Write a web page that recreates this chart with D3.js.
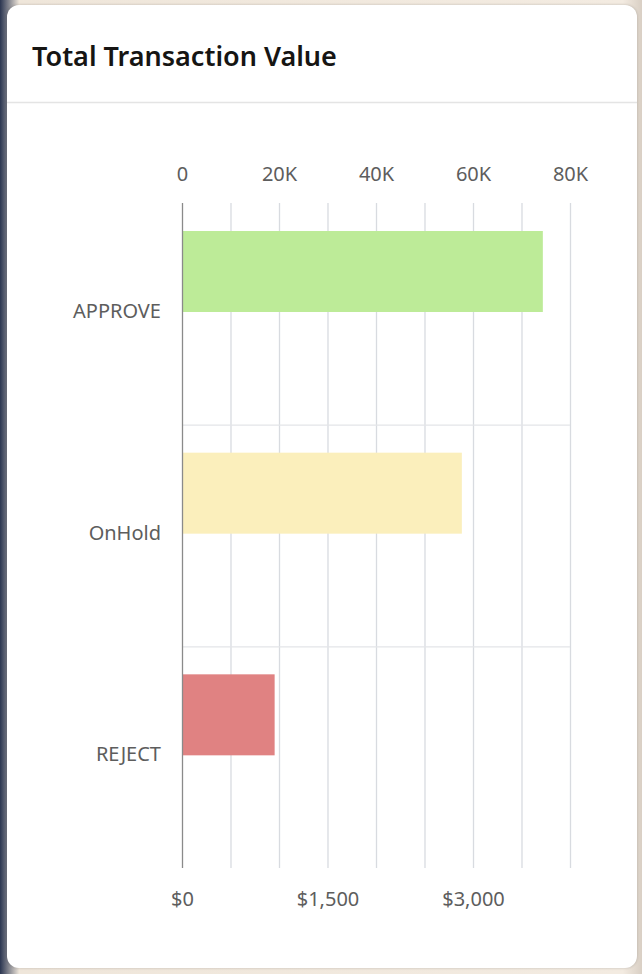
<!DOCTYPE html>
<html>
<head>
<meta charset="utf-8">
<script src="https://cdn.jsdelivr.net/npm/d3@7"></script>
<style>
  html, body { margin: 0; width: 642px; height: 974px; overflow: hidden; }
  body { background: linear-gradient(90deg, #2a3550 0%, #efe6da 3%, #f3ebe1 97%, #d9cfc4 100%); }
  #card { position: absolute; left: 7px; top: 5px; width: 630px; height: 963px;
    background: #fff; border-radius: 12px; box-shadow: 0 0 3px rgba(0,0,0,0.2); }
  text { font-family: "Noto Sans", "Open Sans", sans-serif; }
</style>
</head>
<body>
<div id="card"></div>
<script>
const categories = ["APPROVE", "OnHold", "REJECT"];
const countValues = [74400, 57700, null];   // top axis
const amountValues = [null, null, 955];     // bottom axis
const colors = ["#bdeb98", "#fbefbc", "#e08282"];
const topTicks = [0, 20000, 40000, 60000, 80000];
const bottomTicks = [0, 1500, 3000];

const svg = d3.select("body").append("svg")
  .attr("width", 642).attr("height", 974)
  .style("position", "absolute").style("left", 0).style("top", 0);

// header
svg.append("text").attr("x", 32).attr("y", 66)
  .attr("font-size", 27).attr("font-weight", 600).attr("fill", "#161513")
  .text("Total Transaction Value");
svg.append("line").attr("x1", 7).attr("x2", 637).attr("y1", 102.5).attr("y2", 102.5)
  .attr("stroke", "#e4e4e4").attr("stroke-width", 1.5);

const plotLeft = 182, plotRight = 570, plotTop = 203, plotBottom = 868;

const xTop = d3.scaleLinear().domain([0, 80000]).range([plotLeft, plotRight]);
const xBottom = d3.scaleLinear().domain([0, 4000]).range([plotLeft, plotRight]);
const y = d3.scaleBand().domain(categories).range([plotTop, plotBottom]);

// vertical gridlines
svg.append("g").selectAll("line").data(d3.range(10000, 80001, 10000)).join("line")
  .attr("x1", d => xTop(d) + 0.5).attr("x2", d => xTop(d) + 0.5)
  .attr("y1", plotTop).attr("y2", plotBottom)
  .attr("stroke", "#d8dbe0").attr("stroke-width", 1.3);

// horizontal band separators
svg.append("g").selectAll("line").data(categories.slice(1)).join("line")
  .attr("x1", plotLeft).attr("x2", plotRight)
  .attr("y1", d => y(d) + 0.5).attr("y2", d => y(d) + 0.5)
  .attr("stroke", "#e3e5e8").attr("stroke-width", 1.3);

// bars
const barOffset = 28, barH = 81;
svg.append("g").selectAll("rect").data(categories).join("rect")
  .attr("x", plotLeft)
  .attr("y", d => y(d) + barOffset)
  .attr("height", barH)
  .attr("width", (d, i) => countValues[i] != null ? xTop(countValues[i]) - plotLeft : xBottom(amountValues[i]) - plotLeft)
  .attr("fill", (d, i) => colors[i]);

// baseline
svg.append("line").attr("x1", plotLeft + 0.5).attr("x2", plotLeft + 0.5).attr("y1", plotTop).attr("y2", plotBottom)
  .attr("stroke", "#8a8a8a").attr("stroke-width", 1.3);

// top axis
const topAxis = svg.append("g").attr("transform", `translate(0,${plotTop})`)
  .call(d3.axisTop(xTop).tickValues(topTicks).tickSize(0).tickPadding(22)
    .tickFormat(d => d === 0 ? "0" : d / 1000 + "K"));
topAxis.select(".domain").remove();
topAxis.selectAll("text").attr("font-size", 20).attr("fill", "#5d5d5d")
  .attr("font-family", "Noto Sans, sans-serif");

// bottom axis
const botAxis = svg.append("g").attr("transform", `translate(0,${plotBottom})`)
  .call(d3.axisBottom(xBottom).tickValues(bottomTicks).tickSize(0).tickPadding(24)
    .tickFormat(d => "$" + d3.format(",")(d)));
botAxis.select(".domain").remove();
botAxis.selectAll("text").attr("font-size", 20).attr("fill", "#5d5d5d")
  .attr("font-family", "Noto Sans, sans-serif");

// category labels
svg.append("g").selectAll("text").data(categories).join("text")
  .attr("x", 161).attr("y", d => y(d) + 115)
  .attr("text-anchor", "end").attr("font-size", 20).attr("fill", "#5d5d5d")
  .text(d => d);
</script>
</body>
</html>
